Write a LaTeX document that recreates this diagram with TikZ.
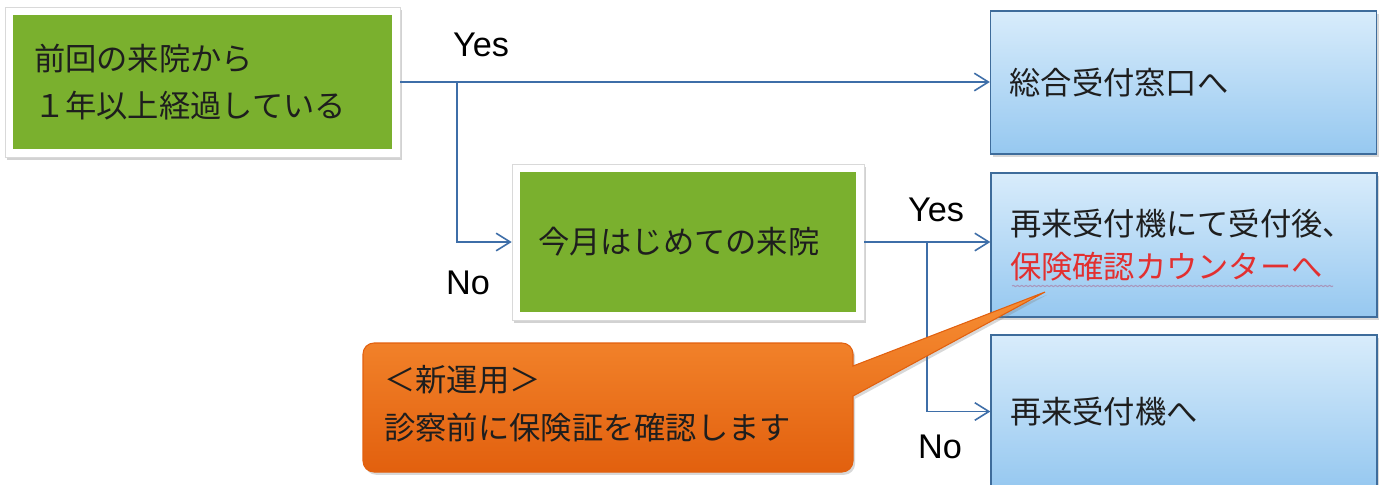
\documentclass[tikz,border=0pt]{standalone}
\usepackage{fontspec}
\setmainfont{Liberation Sans}
\newfontfamily\jfont{Noto Sans CJK JP}
\usetikzlibrary{arrows.meta,shadows,decorations.pathmorphing}

\definecolor{leaf}{RGB}{122,176,46}
\definecolor{skytop}{RGB}{216,236,251}
\definecolor{skybot}{RGB}{150,200,240}
\definecolor{skyline}{RGB}{62,108,155}
\definecolor{linkblue}{RGB}{62,110,168}
\definecolor{alert}{RGB}{226,48,48}
\definecolor{ink}{RGB}{30,30,30}
\definecolor{noteup}{RGB}{247,142,52}
\definecolor{notemid}{RGB}{243,118,26}
\definecolor{notelow}{RGB}{226,96,14}
\definecolor{squig}{RGB}{168,150,188}

\tikzset{
  jtext/.style={font={\jfont\fontsize{17.8pt}{27.2pt}\selectfont}, text=ink},
  greenbox/.style={rectangle, jtext, align=left, inner ysep=0pt,
    fill=white, draw=black!15, line width=0.4pt,
    drop shadow={shadow xshift=1.2pt, shadow yshift=-1.6pt, opacity=.35},
    path picture={\fill[leaf] ([xshift=4.5pt,yshift=4.5pt]path picture bounding box.south west)
      rectangle ([xshift=-4.5pt,yshift=-4.5pt]path picture bounding box.north east);}},
  bluebox/.style={rectangle, jtext, align=left, inner xsep=0.38cm, inner ysep=0pt,
    text width=6.96cm, top color=skytop, bottom color=skybot, draw=skyline, line width=0.8pt,
    drop shadow={shadow xshift=1.2pt, shadow yshift=-1.6pt, opacity=.3}},
  conn/.style={draw=linkblue, line width=0.9pt},
  lbl/.style={font=\fontsize{19.5pt}{22pt}\selectfont, inner sep=0pt, text=black},
}

\begin{document}
\begin{tikzpicture}[x=0.02cm,y=-0.02cm,>={Straight Barb[length=8pt,width=10pt]}]
  \fill[white] (0,0) rectangle (1385,484);
  \useasboundingbox (0,0) rectangle (1385,484);

  % boxes
  \node[greenbox, text width=6.74cm, inner xsep=0.58cm, minimum height=3.0cm] (old) at (202.5,82) {前回の来院から\\１年以上経過している};
  \node[bluebox, minimum height=2.86cm] (window) at (1183.5,82.5) {総合受付窓口へ};
  \node[greenbox, text width=6.0cm, inner xsep=0.52cm, minimum height=3.12cm] (month) at (688,242) {今月はじめての来院};
  \node[bluebox, minimum height=2.88cm, font={\jfont\fontsize{17.8pt}{24.4pt}\selectfont}] (check) at (1184,245) {再来受付機にて受付後、\\\textcolor{alert}{保険確認カウンターへ}};
  \node[bluebox, minimum height=3.06cm] (kiosk) at (1184,411.5) {再来受付機へ};
  \draw[squig, line width=0.6pt, decorate, decoration={snake, amplitude=0.35pt, segment length=2.4pt}] (1012,286) -- (1333,286);

  % connectors
  \coordinate (split1) at (457,82);
  \coordinate (split2) at (927,242);
  \draw[conn,->] (old.east) -- (old.east -| window.west);
  \draw[conn,->] (split1) |- (month.west);
  \draw[conn,->] (month.east) -- (month.east -| check.west);
  \draw[conn,->] (split2) |- (kiosk.west);

  \node[lbl] (yes1) at (481,45) {Yes};
  \node[lbl] (no1) at (468,283) {No};
  \node[lbl] (yes2) at (936,210) {Yes};
  \node[lbl] (no2) at (940,447) {No};

  % callout
  \shadedraw[draw=notelow, line width=0.6pt, top color=noteup, middle color=notemid, bottom color=notelow,
    drop shadow={shadow xshift=1.2pt, shadow yshift=-1.6pt, opacity=.3}]
    (363,400) [rounded corners=0.22cm] -- (363,343) -- (853,343) [sharp corners] -- (853,366) -- (1045,292) -- (853,396) [rounded corners=0.22cm] -- (853,472) -- (363,472) -- cycle;
  \node[jtext, align=left, anchor=west, inner sep=0pt] (note) at (384,404) {＜新運用＞\\診察前に保険証を確認します};
\end{tikzpicture}
\end{document}
